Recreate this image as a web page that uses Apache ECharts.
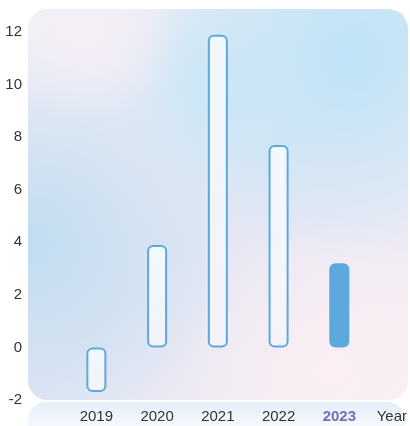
<!DOCTYPE html>
<html>
<head>
<meta charset="utf-8">
<script src="https://cdn.jsdelivr.net/npm/echarts@6/dist/echarts.min.js"></script>
<style>html,body{margin:0;padding:0;background:#fff;}#c{width:410px;height:426px;}</style>
</head>
<body>
<div id="c"></div>
<script>
var categories = ['2019', '2020', '2021', '2022', '2023'];
var values = [-1.7, 3.9, 11.9, 7.7, 3.2];
var highlightYear = '2023';
var yMin = -2, yMax = 12, yInterval = 2;

var chart = echarts.init(document.getElementById('c'));
var outlineFill = {
  type: 'linear', x: 0, y: 0, x2: 0, y2: 1,
  colorStops: [{offset: 0, color: 'rgba(244,249,255,0.95)'}, {offset: 1, color: 'rgba(246,243,250,0.92)'}]
};
var data = values.map(function (v, i) {
  if (categories[i] === highlightYear) {
    return {value: v, itemStyle: {color: '#5ca9dd', borderColor: '#5ca9dd'}};
  }
  return {value: v};
});
var bgShape = {x: 28, y: 9, width: 380, height: 391, r: 20};
function radial(cx, cy, r, color) {
  return {type: 'radial', x: cx, y: cy, r: r, colorStops: [{offset: 0, color: color}, {offset: 1, color: color.replace(/[\d.]+\)$/, '0)')}]};
}
chart.setOption({
  animation: false,
  graphic: [
    {type: 'rect', z: -10, silent: true, shape: bgShape, style: {fill: {type: 'linear', x: 0, y: 0, x2: 1, y2: 1, colorStops: [{offset: 0, color: '#f1f0f7'}, {offset: 0.5, color: '#e3e6f3'}, {offset: 1, color: '#faeef3'}]}}},
    {type: 'rect', z: -9, silent: true, shape: bgShape, style: {fill: radial(0.85, 0.12, 0.55, 'rgba(190,228,247,1)')}},
    {type: 'rect', z: -9, silent: true, shape: bgShape, style: {fill: radial(0.5, 0.2, 0.3, 'rgba(200,230,246,0.9)')}},
    {type: 'rect', z: -9, silent: true, shape: bgShape, style: {fill: radial(0.0, 0.6, 0.55, 'rgba(192,220,240,1)')}},
    {type: 'rect', z: -8, silent: true, shape: bgShape, style: {fill: radial(0.8, 0.92, 0.4, 'rgba(251,239,244,0.95)')}},
    {type: 'rect', z: -8, silent: true, shape: bgShape, style: {fill: radial(0.15, 0.05, 0.25, 'rgba(246,238,246,0.9)')}},
    {type: 'rect', z: -10, silent: true, shape: {x: 28, y: 402, width: 377, height: 40, r: [18, 18, 0, 0]}, style: {fill: {type: 'linear', x: 0, y: 0, x2: 0, y2: 1, colorStops: [{offset: 0, color: 'rgba(222,236,248,0.8)'}, {offset: 1, color: 'rgba(250,250,253,0.6)'}]}}}
  ],
  grid: {left: 66, right: 38, top: 32, bottom: 26, containLabel: false},
  xAxis: {
    type: 'category',
    data: categories,
    name: 'Year',
    nameLocation: 'end',
    nameGap: 7,
    nameMoveOverlap: false,
    nameTextStyle: {color: '#333', fontSize: 15, fontFamily: 'Liberation Sans', verticalAlign: 'top', padding: [9, 0, 0, 0]},
    axisLine: {show: false, onZero: false},
    axisTick: {show: false},
    axisLabel: {
      interval: 0,
      color: '#333', fontSize: 15, fontFamily: 'Liberation Sans', margin: 9,
      formatter: function (v) { return v === highlightYear ? '{h|' + v + '}' : v; },
      rich: {h: {fontWeight: 'bold', color: '#7a6db5', fontSize: 15, fontFamily: 'Liberation Sans'}}
    }
  },
  yAxis: {
    type: 'value', min: yMin, max: yMax, interval: yInterval,
    axisLine: {show: false}, axisTick: {show: false}, splitLine: {show: false},
    axisLabel: {color: '#333', fontSize: 15, fontFamily: 'Liberation Sans', margin: 44}
  },
  series: [{
    type: 'bar',
    data: data,
    barWidth: 20,
    itemStyle: {color: outlineFill, borderColor: '#5ca9dd', borderWidth: 2, borderRadius: 5}
  }]
});
</script>
</body>
</html>
